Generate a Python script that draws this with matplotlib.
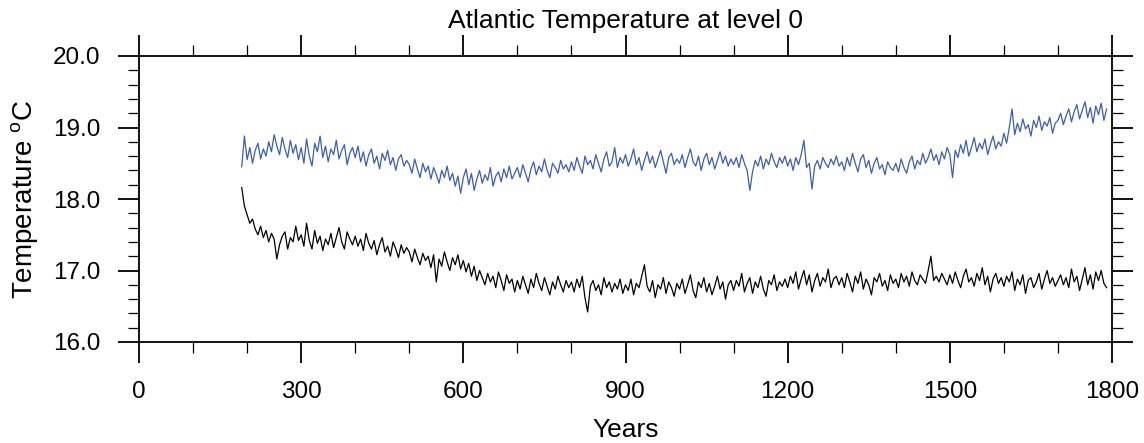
import numpy as np
import matplotlib
matplotlib.use("Agg")
import matplotlib.pyplot as plt
from matplotlib.ticker import MultipleLocator, FormatStrFormatter

plt.rcParams['font.family'] = ['Liberation Sans', 'DejaVu Sans']
plt.rcParams['mathtext.fontset'] = 'custom'
plt.rcParams['mathtext.rm'] = 'Liberation Sans'

# model years, one sample every 5 years
years = np.arange(190, 1795, 5)

# upper series (blue)
temp_blue = [
    18.45, 18.88, 18.55, 18.72, 18.50, 18.68, 18.78, 18.56, 18.70, 18.60, 18.80, 18.66, 18.90, 18.74, 18.62, 18.86, 18.70, 18.58, 18.82, 18.64, 18.76, 18.55,
    18.72, 18.50, 18.84, 18.60, 18.46, 18.78, 18.66, 18.88, 18.58, 18.74, 18.52, 18.70, 18.62, 18.82, 18.56, 18.68, 18.76, 18.48, 18.64, 18.72,
    18.58, 18.74, 18.52, 18.66, 18.46, 18.62, 18.70, 18.50, 18.60, 18.42, 18.64, 18.54, 18.68, 18.48, 18.58, 18.40, 18.56, 18.62, 18.46, 18.54,
    18.48, 18.36, 18.56, 18.42, 18.30, 18.50, 18.38, 18.46, 18.28, 18.44, 18.34, 18.22, 18.40, 18.30, 18.46, 18.26, 18.36, 18.18, 18.32, 18.08,
    18.30, 18.42, 18.20, 18.36, 18.12, 18.28, 18.40, 18.22, 18.34, 18.26, 18.44, 18.18, 18.32, 18.38, 18.24, 18.42, 18.30, 18.46, 18.28, 18.36,
    18.44, 18.30, 18.48, 18.36, 18.24, 18.42, 18.52, 18.34, 18.46, 18.38, 18.56, 18.40, 18.30, 18.50, 18.44, 18.36, 18.54, 18.42, 18.48, 18.38,
    18.52, 18.40, 18.58, 18.46, 18.36, 18.60, 18.48, 18.54, 18.42, 18.62, 18.50, 18.38, 18.56, 18.66, 18.46, 18.52, 18.72, 18.44, 18.58, 18.50,
    18.62, 18.46, 18.56, 18.70, 18.48, 18.58, 18.40, 18.54, 18.66, 18.50, 18.60, 18.44, 18.56, 18.68, 18.52, 18.36, 18.58, 18.64, 18.48, 18.56,
    18.50, 18.62, 18.44, 18.58, 18.70, 18.52, 18.46, 18.60, 18.40, 18.56, 18.64, 18.48, 18.58, 18.42, 18.54, 18.66, 18.50, 18.60, 18.46, 18.56,
    18.48, 18.58, 18.44, 18.62, 18.50, 18.40, 18.12, 18.38, 18.54, 18.46, 18.60, 18.42, 18.56, 18.48, 18.64, 18.52, 18.44, 18.58, 18.50, 18.60,
    18.46, 18.56, 18.40, 18.58, 18.48, 18.62, 18.82, 18.44, 18.50, 18.14, 18.46, 18.54, 18.42, 18.58, 18.50, 18.44, 18.56, 18.48, 18.60, 18.46,
    18.52, 18.40, 18.58, 18.46, 18.64, 18.50, 18.38, 18.56, 18.62, 18.44, 18.54, 18.36, 18.50, 18.58, 18.42, 18.48, 18.34, 18.52, 18.44, 18.40,
    18.50, 18.38, 18.56, 18.44, 18.36, 18.52, 18.60, 18.42, 18.54, 18.48, 18.64, 18.50, 18.58, 18.70, 18.54, 18.62, 18.48, 18.66, 18.56, 18.72,
    18.62, 18.30, 18.68, 18.58, 18.76, 18.64, 18.82, 18.60, 18.72, 18.86, 18.66, 18.78, 18.70, 18.84, 18.62, 18.76, 18.88, 18.70, 18.80, 18.74,
    18.92, 18.78, 19.00, 19.26, 18.90, 19.06, 18.94, 19.12, 18.98, 19.04, 18.88, 19.10, 19.00, 19.16, 18.96, 19.08, 19.02, 19.14, 18.92, 19.06,
    19.10, 19.20, 19.04, 19.16, 19.26, 19.08, 19.22, 19.32, 19.12, 19.24, 19.36, 19.14, 19.28, 19.06, 19.30, 19.18, 19.34, 19.10, 19.26,
]

# lower series (black)
temp_black = [
    18.16, 17.90, 17.78, 17.66, 17.72, 17.58, 17.50, 17.62, 17.46, 17.56, 17.40, 17.52, 17.44, 17.16, 17.36, 17.48, 17.54, 17.30, 17.46, 17.40, 17.62, 17.42,
    17.50, 17.34, 17.66, 17.42, 17.30, 17.56, 17.38, 17.48, 17.28, 17.44, 17.36, 17.52, 17.32, 17.46, 17.60, 17.40, 17.30, 17.54, 17.44, 17.36,
    17.48, 17.34, 17.44, 17.28, 17.52, 17.38, 17.30, 17.42, 17.22, 17.36, 17.46, 17.26, 17.34, 17.20, 17.40, 17.30, 17.18, 17.36, 17.24, 17.32,
    17.26, 17.12, 17.30, 17.18, 17.08, 17.24, 17.14, 17.20, 17.04, 17.22, 16.84, 17.16, 17.06, 17.26, 17.12, 17.00, 17.18, 17.08, 17.22, 17.02,
    17.14, 16.98, 17.10, 16.92, 17.06, 16.86, 17.00, 16.90, 16.80, 16.96, 16.84, 16.92, 16.76, 16.98, 16.86, 16.72, 16.94, 16.82, 16.88, 16.70,
    16.86, 16.74, 16.92, 16.80, 16.68, 16.88, 16.76, 16.96, 16.82, 16.72, 16.90, 16.78, 16.66, 16.84, 16.74, 16.92, 16.80, 16.70, 16.86, 16.76,
    16.84, 16.70, 16.88, 16.76, 16.92, 16.62, 16.42, 16.78, 16.86, 16.72, 16.80, 16.66, 16.90, 16.76, 16.84, 16.70, 16.82, 16.74, 16.88, 16.68,
    16.80, 16.72, 16.88, 16.66, 16.82, 16.76, 16.92, 17.08, 16.78, 16.70, 16.86, 16.62, 16.80, 16.74, 16.90, 16.68, 16.84, 16.76, 16.64, 16.82,
    16.74, 16.88, 16.68, 16.80, 16.94, 16.72, 16.62, 16.84, 16.76, 16.90, 16.70, 16.82, 16.66, 16.78, 16.92, 16.74, 16.84, 16.60, 16.80, 16.86,
    16.72, 16.86, 16.78, 16.96, 16.70, 16.82, 16.90, 16.68, 16.84, 16.76, 16.92, 16.74, 16.64, 16.86, 16.80, 16.94, 16.72, 16.84, 16.78, 16.88,
    16.76, 16.92, 16.82, 16.98, 16.74, 16.88, 17.00, 16.80, 16.94, 16.70, 16.86, 16.96, 16.78, 16.90, 16.84, 17.02, 16.76, 16.88, 16.92, 16.80,
    16.90, 16.76, 16.96, 16.84, 16.70, 16.92, 16.82, 16.98, 16.74, 16.88, 16.80, 16.66, 16.90, 16.84, 16.96, 16.78, 16.86, 16.72, 16.94, 16.82,
    16.88, 16.76, 16.96, 16.84, 16.92, 16.78, 16.98, 16.86, 16.80, 16.94, 16.88, 16.82, 17.00, 17.20, 16.86, 16.92, 16.84, 16.96, 16.88, 16.80,
    16.94, 16.82, 16.98, 16.86, 16.76, 16.92, 17.02, 16.84, 16.90, 16.78, 16.96, 16.86, 17.04, 16.80, 16.92, 16.70, 16.88, 16.96, 16.82, 16.90,
    16.78, 16.92, 16.84, 16.98, 16.72, 16.88, 16.80, 16.94, 16.68, 16.86, 16.90, 16.76, 16.84, 16.96, 16.74, 16.88, 17.00, 16.82, 16.90, 16.78,
    16.86, 16.94, 16.80, 16.90, 16.76, 17.02, 16.84, 16.92, 16.72, 16.88, 17.04, 16.80, 16.94, 16.74, 16.98, 16.86, 17.00, 16.82, 16.76,
]

fig = plt.figure(figsize=(11.44, 4.43), dpi=100)
ax = fig.add_axes([139 / 1144, 101 / 443, 973 / 1144, 286 / 443])

ax.plot(years, temp_blue, color='#3a5eb6', lw=0.9)
ax.plot(years, temp_black, color='black', lw=0.9)

ax.set_xlim(0, 1800)
ax.set_ylim(16.0, 20.0)
ax.xaxis.set_major_locator(MultipleLocator(300))
ax.xaxis.set_minor_locator(MultipleLocator(100))
ax.yaxis.set_major_locator(MultipleLocator(1.0))
ax.yaxis.set_minor_locator(MultipleLocator(0.2))
ax.yaxis.set_major_formatter(FormatStrFormatter('%.1f'))

for s in ax.spines.values():
    s.set_linewidth(1.3)
ax.tick_params(which='both', direction='out', top=True, right=True, labelsize=17.5)
ax.tick_params(which='major', length=15, width=1.3, pad=13)
ax.tick_params(which='minor', length=8, width=0.9)

ax.set_title('Atlantic Temperature at level 0', fontsize=19, pad=20)
ax.set_xlabel('Years', fontsize=19, labelpad=11)
ax.set_ylabel('Temperature $^{\\mathrm{o}}$C', fontsize=20, labelpad=8)

fig.savefig('out.png', dpi=100)
